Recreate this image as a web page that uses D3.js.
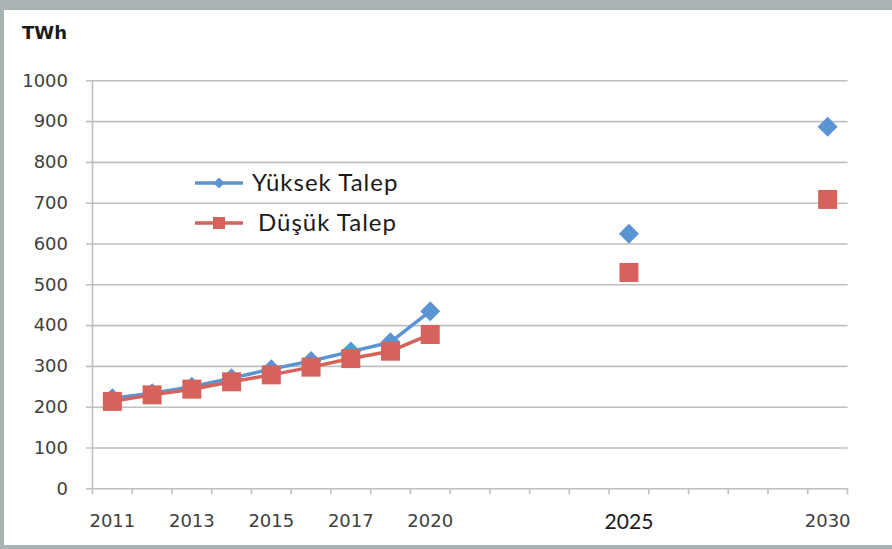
<!DOCTYPE html>
<html>
<head>
<meta charset="utf-8">
<script src="https://cdn.jsdelivr.net/npm/d3@7"></script>
<style>
  html, body { margin: 0; padding: 0; background: #fff; }
  svg { display: block; }
</style>
</head>
<body>
<svg id="chart" width="892" height="549"></svg>
<script>
// ---- data ----
const categories = ["2011","2012","2013","2014","2015","2016","2017","2018","2020",
                    "2021","2022","2023","2024","2025","2026","2027","2028","2029","2030"];
const highDemand = [221, 233, 249, 270, 292, 312, 335, 358, 434,
                    null, null, null, null, 624, null, null, null, null, 886];
const lowDemand  = [213, 229, 243, 261, 278, 297, 318, 336, 377,
                    null, null, null, null, 529, null, null, null, null, 708];
const lineEnd = 9; // first 9 points are joined by a line
const xTickLabels = ["2011","2013","2015","2017","2020","2025","2030"];
const yTicks = [0,100,200,300,400,500,600,700,800,900,1000];
const seriesNames = ["Yüksek Talep", "Düşük Talep"];
const unitLabel = "TWh";

// ---- layout ----
const W = 892, H = 549;
const plotL = 92.5, plotR = 847.5, plotT = 80.3, plotB = 488.3;
const blue = "#5b94d2", red = "#d6625c", grid = "#bfbfbf", txt = "#404040";

const svg = d3.select("#chart");

// frame
svg.append("rect").attr("x",0).attr("y",0).attr("width",W).attr("height",H).attr("fill","#a9b3b3");
svg.append("rect").attr("x",4).attr("y",10).attr("width",W-4).attr("height",H-14).attr("fill","#ffffff");

const x = d3.scaleBand().domain(categories).range([plotL, plotR]).padding(0);
const y = d3.scaleLinear().domain([0, 1000]).range([plotB, plotT]);
const cx = c => x(c) + x.bandwidth() / 2;

// y grid + labels (axis placed at right edge, ticks extend left to x=86)
const yAxis = d3.axisLeft(y).tickValues(yTicks).tickFormat(d3.format("d"))
  .tickSize(plotR - 86).tickPadding(18);
const gy = svg.append("g").attr("transform", `translate(${plotR},0)`).call(yAxis);
gy.select(".domain").remove();
gy.selectAll(".tick line").attr("stroke", grid).attr("stroke-width", 1.6);
gy.selectAll(".tick text").attr("fill", txt).style("font-family", "DejaVu Sans, sans-serif")
  .style("font-size", "18px");

// y axis line
svg.append("line").attr("x1", plotL).attr("x2", plotL).attr("y1", y(1000)).attr("y2", y(0))
  .attr("stroke", grid).attr("stroke-width", 1.6);

// x tick marks at band boundaries
const boundaries = categories.map(c => x(c)).concat([plotR]);
svg.append("g").selectAll("line").data(boundaries).join("line")
  .attr("x1", d => d).attr("x2", d => d).attr("y1", y(0)).attr("y2", y(0) + 6)
  .attr("stroke", grid).attr("stroke-width", 1.6);

// x labels
const xAxis = d3.axisBottom(x).tickValues(xTickLabels).tickSize(0).tickPadding(26);
const gx = svg.append("g").attr("transform", `translate(0,${plotB})`).call(xAxis);
gx.select(".domain").remove();
gx.selectAll(".tick text").attr("fill", txt).style("font-family", "DejaVu Sans, sans-serif")
  .style("font-size", "18px");
gx.selectAll(".tick text").filter(d => d === "2025")
  .attr("fill", "#1a1a1a").style("font-family", "Lato, sans-serif").style("font-size", "21px");

// unit label
svg.append("text").attr("x", 22).attr("y", 39).text(unitLabel)
  .attr("fill", "#1a1a1a").style("font-family", "DejaVu Sans, sans-serif")
  .style("font-size", "18px").style("font-weight", "bold");

// series
function drawSeries(values, color, kind) {
  const pts = categories.map((c, i) => ({c, v: values[i], i})).filter(d => d.v != null);
  const linePts = pts.filter(d => d.i < lineEnd);
  svg.append("path").datum(linePts)
    .attr("d", d3.line().x(d => cx(d.c)).y(d => y(d.v)))
    .attr("fill", "none").attr("stroke", color).attr("stroke-width", 3.5)
    .attr("stroke-linejoin", "round");
  const g = svg.append("g");
  if (kind === "diamond") {
    g.selectAll("path").data(pts).join("path")
      .attr("transform", d => `translate(${cx(d.c)},${y(d.v)}) rotate(45)`)
      .attr("d", d3.symbol().type(d3.symbolSquare).size(200)())
      .attr("fill", color);
  } else {
    g.selectAll("rect").data(pts).join("rect")
      .attr("x", d => cx(d.c) - 9.5).attr("y", d => y(d.v) - 9.5)
      .attr("width", 19).attr("height", 19).attr("fill", color);
  }
}
drawSeries(highDemand, blue, "diamond");
drawSeries(lowDemand, red, "square");

// legend
const legend = svg.append("g");
const legY = [183, 223];
[blue, red].forEach((col, i) => {
  legend.append("line").attr("x1", 195).attr("x2", 243).attr("y1", legY[i]).attr("y2", legY[i])
    .attr("stroke", col).attr("stroke-width", 3.5);
  if (i === 0) {
    legend.append("path").attr("transform", `translate(219,${legY[i]}) rotate(45)`)
      .attr("d", d3.symbol().type(d3.symbolSquare).size(60)()).attr("fill", col);
  } else {
    legend.append("rect").attr("x", 213).attr("y", legY[i] - 6).attr("width", 12).attr("height", 12)
      .attr("fill", col);
  }
  legend.append("text").attr("x", i === 0 ? 252 : 258).attr("y", legY[i]).attr("dy", "0.35em")
    .text(seriesNames[i]).attr("fill", "#1a1a1a")
    .style("font-family", "Lato, sans-serif").style("font-size", "24px")
    .style("letter-spacing", "1px");
});
</script>
</body>
</html>
